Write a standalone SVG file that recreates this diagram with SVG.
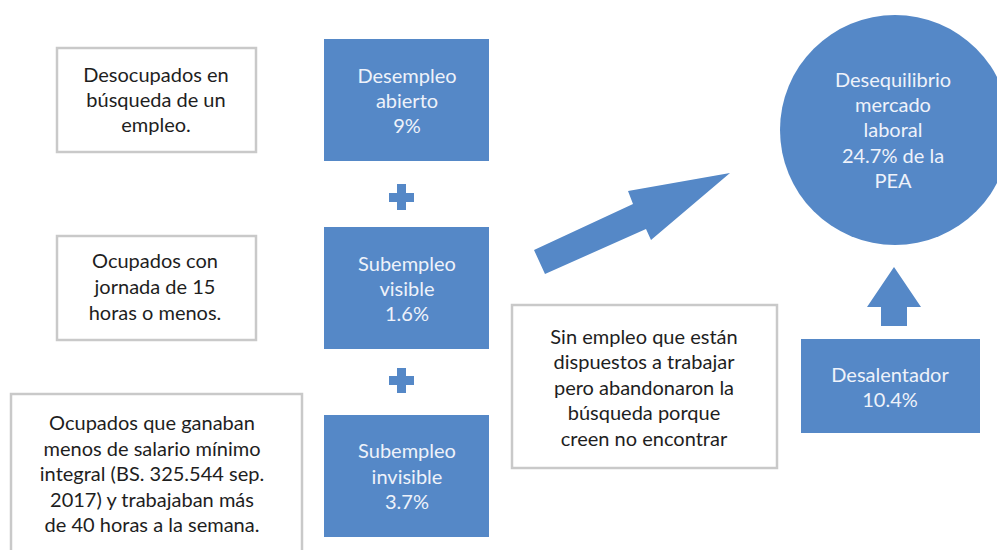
<svg xmlns="http://www.w3.org/2000/svg" width="997" height="550" viewBox="0 0 997 550">
<style>
.wb{fill:#ffffff;stroke:#c9c9c9;stroke-width:2.5}
.bb{fill:#5588C7}
.dt{font-family:Lato,"Open Sans","Liberation Sans",sans-serif;font-size:20px;fill:#1e1e1e;text-anchor:middle}
.lt{font-family:Lato,"Open Sans","Liberation Sans",sans-serif;font-size:20px;fill:#eef2fa;text-anchor:middle}
</style>
<rect width="997" height="550" fill="#ffffff"/>
<g id="desocupados">
<rect class="wb" x="57" y="48" width="199" height="104"/>
<text class="dt" x="156" y="82">Desocupados en</text>
<text class="dt" x="156" y="107">búsqueda de un</text>
<text class="dt" x="156" y="132">empleo.</text>
</g>
<g id="desempleo">
<rect class="bb" x="324" y="39" width="165" height="122"/>
<text class="lt" x="407" y="83">Desempleo</text>
<text class="lt" x="407" y="108">abierto</text>
<text class="lt" x="407" y="133">9%</text>
</g>
<g id="plus1">
<path class="bb" d="M397 184h9v9h8v9h-8v8h-9v-8h-8v-9h8z"/>
</g>
<g id="ocupados15">
<rect class="wb" x="57" y="236" width="199" height="104"/>
<text class="dt" x="155" y="268">Ocupados con</text>
<text class="dt" x="155" y="294">jornada de 15</text>
<text class="dt" x="155" y="320">horas o menos.</text>
</g>
<g id="subvisible">
<rect class="bb" x="324" y="227" width="165" height="122"/>
<text class="lt" x="407" y="271">Subempleo</text>
<text class="lt" x="407" y="296">visible</text>
<text class="lt" x="407" y="321">1.6%</text>
</g>
<g id="plus2">
<path class="bb" d="M397 368h9v8h8v9h-8v8h-9v-8h-8v-9h8z"/>
</g>
<g id="ocupadossalario">
<rect class="wb" x="11" y="394" width="291" height="162"/>
<text class="dt" x="152" y="430">Ocupados que ganaban</text>
<text class="dt" x="152" y="456">menos de salario mínimo</text>
<text class="dt" x="152" y="481">integral (BS. 325.544 sep.</text>
<text class="dt" x="152" y="507">2017) y trabajaban más</text>
<text class="dt" x="152" y="532">de 40 horas a la semana.</text>
</g>
<g id="subinvisible">
<rect class="bb" x="324" y="415" width="165" height="122"/>
<text class="lt" x="407" y="458">Subempleo</text>
<text class="lt" x="407" y="484">invisible</text>
<text class="lt" x="407" y="509">3.7%</text>
</g>
<g id="sinempleo">
<rect class="wb" x="512" y="305" width="265" height="163"/>
<text class="dt" x="644" y="344">Sin empleo que están</text>
<text class="dt" x="644" y="369">dispuestos a trabajar</text>
<text class="dt" x="644" y="395">pero abandonaron la</text>
<text class="dt" x="644" y="420">búsqueda porque</text>
<text class="dt" x="644" y="446">creen no encontrar</text>
</g>
<g id="desalentador">
<rect class="bb" x="801" y="339" width="179" height="94"/>
<text class="lt" x="890" y="382">Desalentador</text>
<text class="lt" x="890" y="407">10.4%</text>
</g>
<g id="desequilibrio">
<circle class="bb" cx="895" cy="130" r="115"/>
<text class="lt" x="893" y="87">Desequilibrio</text>
<text class="lt" x="893" y="112">mercado</text>
<text class="lt" x="893" y="137">laboral</text>
<text class="lt" x="893" y="163">24.7% de la</text>
<text class="lt" x="893" y="188">PEA</text>
</g>
<g id="connectors">
<path class="bb" d="M534 250L633 204L628 191L730 173L651 240L646 229L545 274Z"/>
<path class="bb" d="M894 267L921 307H907V326H881V307H867Z"/>
</g>
</svg>
